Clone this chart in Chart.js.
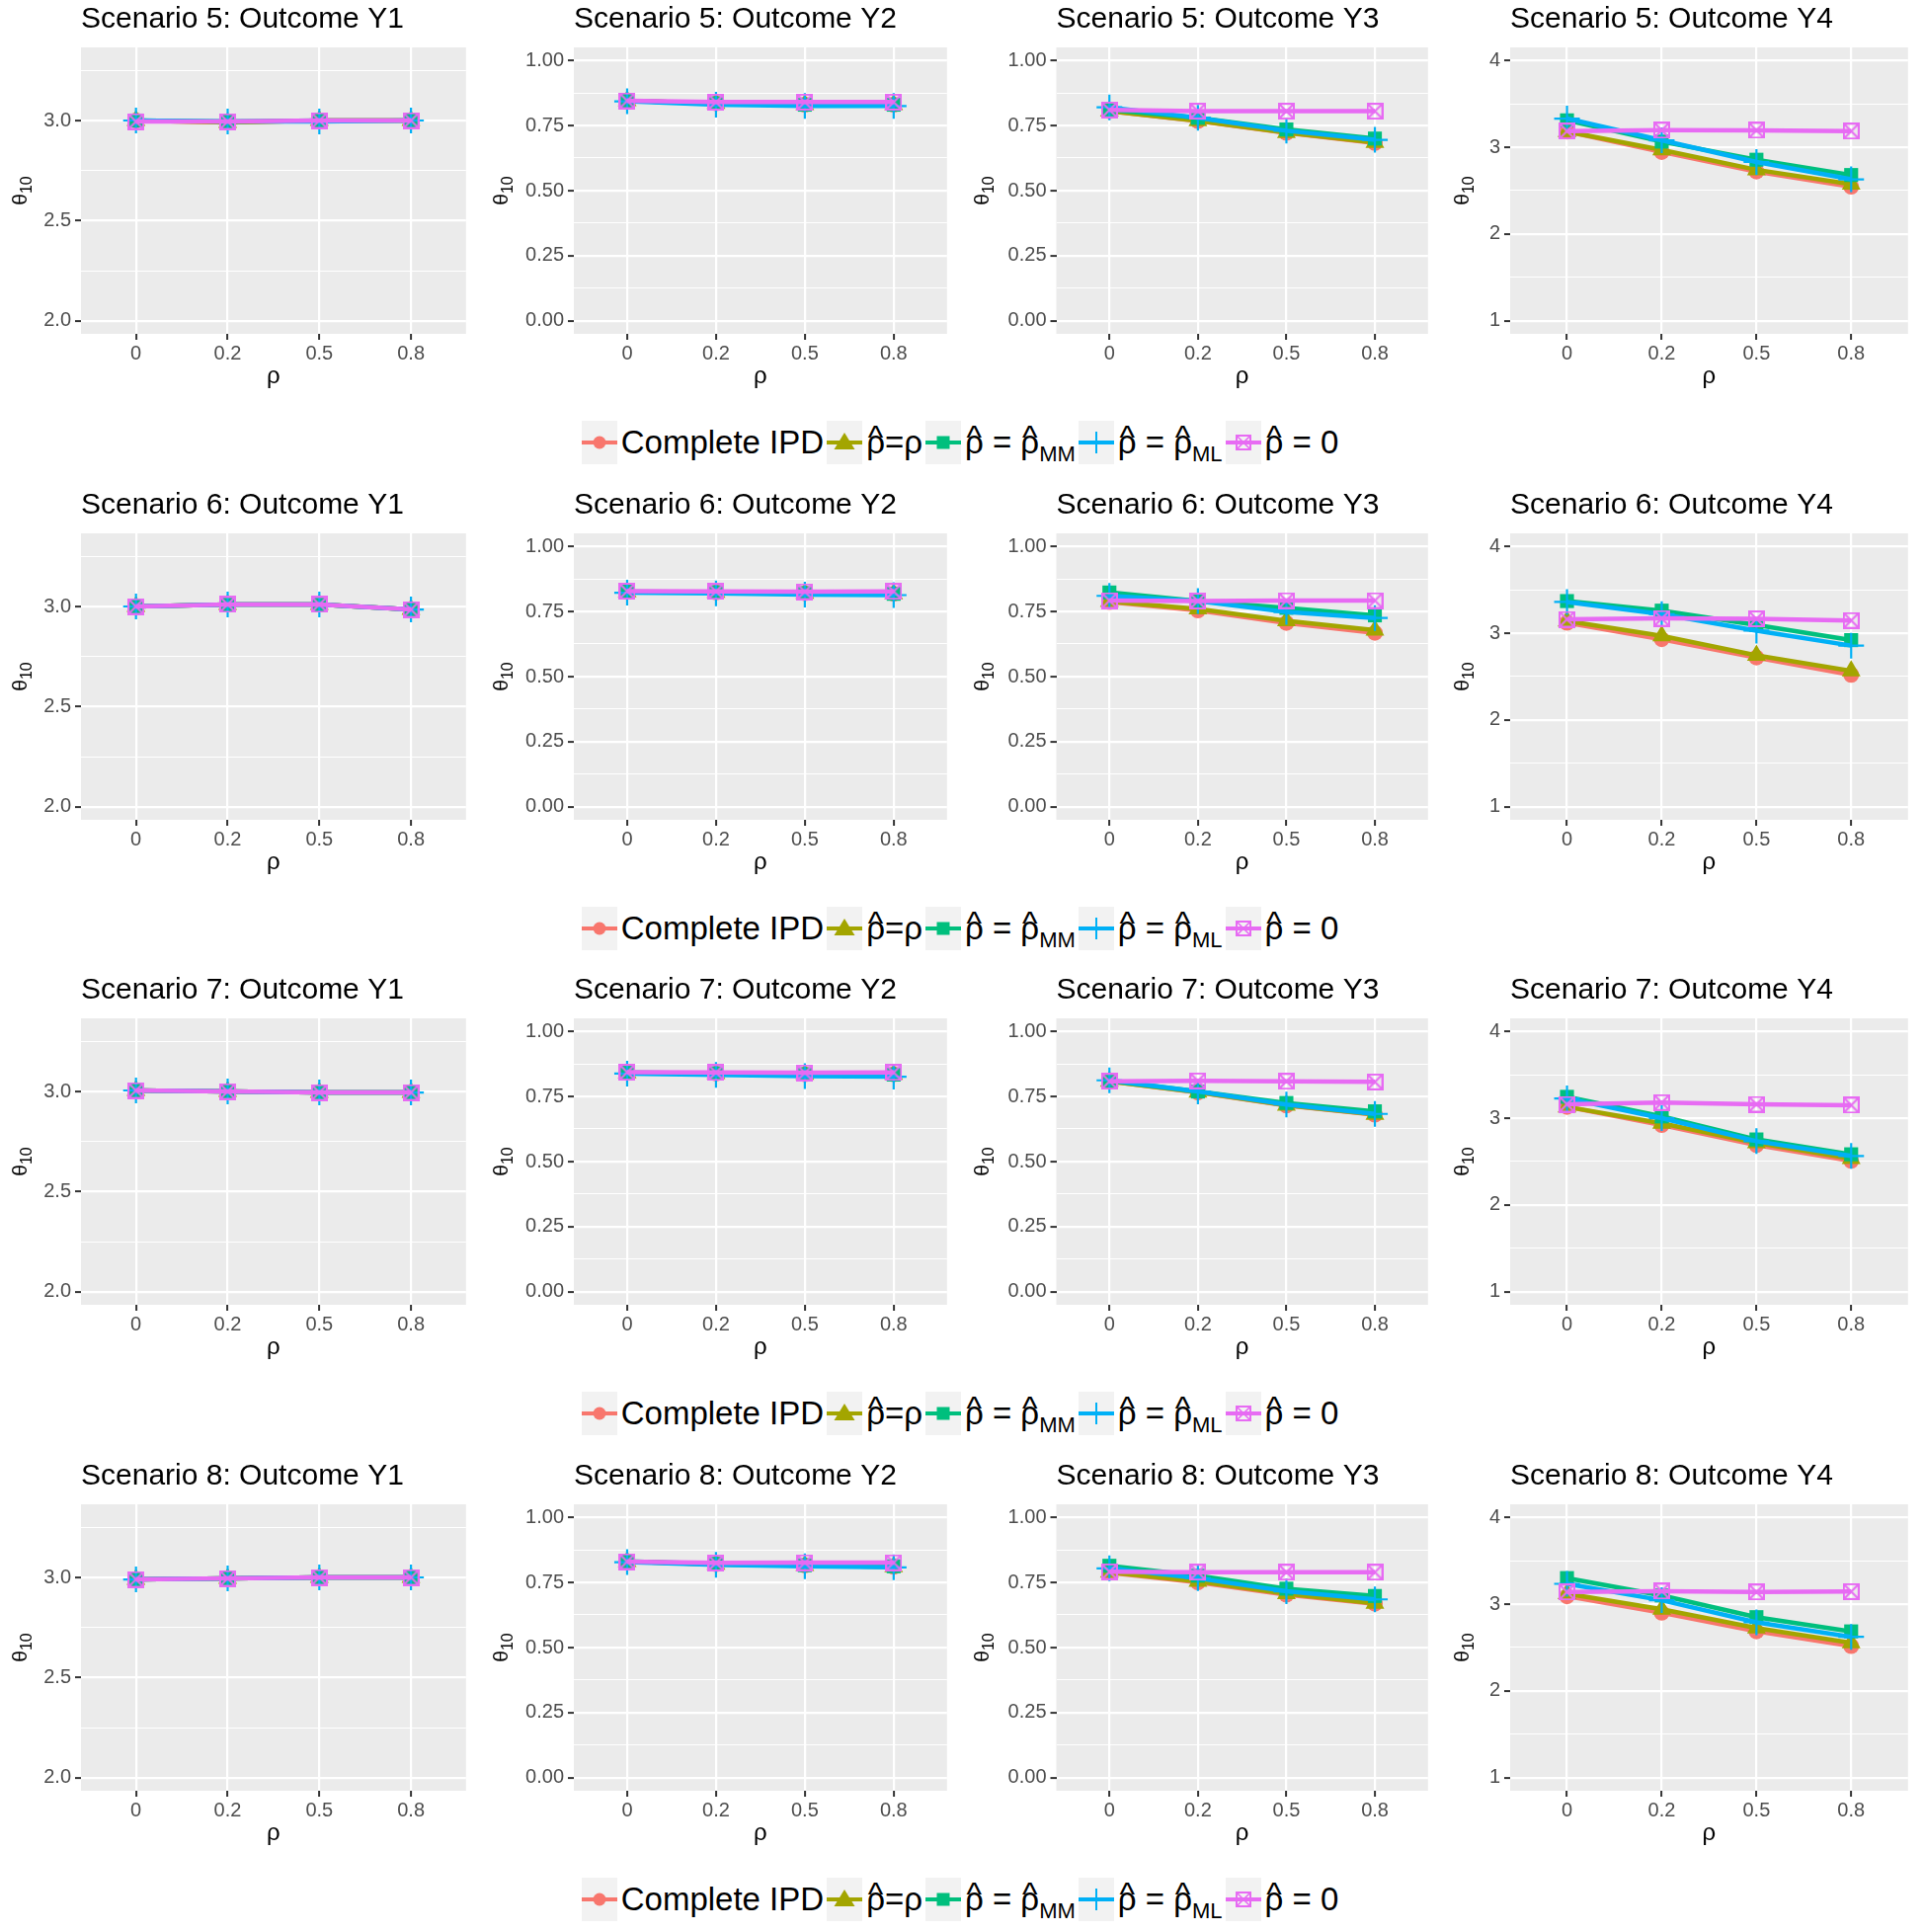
<!DOCTYPE html>
<html><head><meta charset="utf-8">
<script src="https://cdn.jsdelivr.net/npm/chart.js@4.4.1/dist/chart.umd.min.js"></script>
<style>
html,body{margin:0;padding:0;background:#fff;}
#wrap{position:relative;width:1947px;height:1956px;overflow:hidden;background:#fff;}
canvas.p{position:absolute;}
.legend{position:absolute;left:0;width:1947px;height:44px;display:flex;justify-content:center;align-items:center;font-family:"Liberation Sans",Arial,sans-serif;font-size:33px;color:#000;}
.key{width:36px;height:44px;flex:none;display:block;}
.lt{margin:0 3px 0 4px;white-space:nowrap;line-height:44px;height:44px;}
.lt sub{font-size:22px;vertical-align:-8px;line-height:0;}
.hat{position:relative;display:inline-block;line-height:44px;}
.hat::before{content:'^';position:absolute;left:0;width:100%;text-align:center;top:-5px;line-height:44px;}
</style></head><body><div id="wrap"></div>
<script>
// ---------------- data ----------------
const rhoLabels = ['0', '0.2', '0.5', '0.8'];
const scenarios = ['5', '6', '7', '8'];
const outcomes = ['Y1', 'Y2', 'Y3', 'Y4'];
const seriesNames = ['Complete IPD', 'ρ̂=ρ', 'ρ̂ = ρ̂MM', 'ρ̂ = ρ̂ML', 'ρ̂ = 0'];
const legendHtml = [
  'Complete IPD',
  '<span class="hat">ρ</span>=ρ',
  '<span class="hat">ρ</span> = <span class="hat">ρ</span><sub>MM</sub>',
  '<span class="hat">ρ</span> = <span class="hat">ρ</span><sub>ML</sub>',
  '<span class="hat">ρ</span> = 0'
];

const yLimY1 = [2, 3.3];
const yLimY2 = [0, 1];
const yLimY3 = [0, 1];
const yLimY4 = [1, 4];
const yTicksY1 = [2.0, 2.5, 3.0];
const yTickLabelsY1 = ['2.0', '2.5', '3.0'];
const yTicksY23 = [0, 0.25, 0.5, 0.75, 1.0];
const yTickLabelsY23 = ['0.00', '0.25', '0.50', '0.75', '1.00'];
const yTicksY4 = [1, 2, 3, 4];
const yTickLabelsY4 = ['1', '2', '3', '4'];

// each panel: [Complete IPD, rho_hat=rho, rho_hat=MM, rho_hat=ML, rho_hat=0]
const s5Y1 = [[3.00, 2.99, 3.00, 3.00], [3.00, 2.99, 3.00, 3.00], [3.00, 2.995, 3.00, 3.00], [3.00, 2.995, 2.995, 3.00], [2.995, 2.995, 3.00, 3.00]];
const s5Y2 = [[0.845, 0.835, 0.83, 0.83], [0.845, 0.835, 0.83, 0.83], [0.845, 0.835, 0.83, 0.83], [0.843, 0.83, 0.825, 0.825], [0.845, 0.84, 0.84, 0.84]];
const s5Y3 = [[0.805, 0.767, 0.722, 0.683], [0.805, 0.768, 0.723, 0.685], [0.81, 0.78, 0.735, 0.70], [0.82, 0.78, 0.73, 0.695], [0.81, 0.805, 0.805, 0.805]];
const s5Y4 = [[3.18, 2.945, 2.72, 2.545], [3.18, 2.97, 2.74, 2.575], [3.31, 3.065, 2.856, 2.68], [3.33, 3.08, 2.83, 2.63], [3.185, 3.196, 3.195, 3.185]];

const s6Y1 = [[3.00, 3.01, 3.01, 2.985], [3.00, 3.01, 3.01, 2.985], [3.00, 3.01, 3.01, 2.985], [3.00, 3.01, 3.01, 2.985], [3.00, 3.01, 3.01, 2.985]];
const s6Y2 = [[0.825, 0.823, 0.82, 0.818], [0.825, 0.823, 0.82, 0.818], [0.826, 0.824, 0.82, 0.818], [0.822, 0.82, 0.815, 0.813], [0.828, 0.827, 0.826, 0.827]];
const s6Y3 = [[0.786, 0.754, 0.706, 0.668], [0.788, 0.76, 0.714, 0.678], [0.823, 0.79, 0.764, 0.735], [0.81, 0.79, 0.748, 0.725], [0.792, 0.79, 0.792, 0.792]];
const s6Y4 = [[3.12, 2.93, 2.72, 2.52], [3.14, 2.97, 2.745, 2.566], [3.37, 3.26, 3.094, 2.92], [3.36, 3.22, 3.03, 2.857], [3.16, 3.17, 3.165, 3.147]];

const s7Y1 = [[3.005, 3.00, 2.995, 2.995], [3.005, 3.00, 2.995, 2.995], [3.005, 3.00, 2.995, 2.995], [3.005, 3.00, 2.995, 2.995], [3.005, 3.00, 2.995, 2.995]];
const s7Y2 = [[0.84, 0.838, 0.835, 0.835], [0.84, 0.838, 0.835, 0.835], [0.842, 0.839, 0.835, 0.834], [0.838, 0.833, 0.828, 0.826], [0.843, 0.842, 0.841, 0.842]];
const s7Y3 = [[0.808, 0.765, 0.715, 0.68], [0.808, 0.766, 0.716, 0.681], [0.81, 0.769, 0.725, 0.693], [0.812, 0.769, 0.719, 0.683], [0.808, 0.81, 0.808, 0.806]];
const s7Y4 = [[3.13, 2.92, 2.69, 2.508], [3.13, 2.94, 2.715, 2.534], [3.246, 3.02, 2.755, 2.584], [3.227, 3.00, 2.735, 2.565], [3.16, 3.18, 3.16, 3.15]];

const s8Y1 = [[2.99, 2.995, 3.00, 3.00], [2.99, 2.995, 3.00, 3.00], [2.99, 2.995, 3.00, 3.00], [2.99, 2.995, 3.00, 3.00], [2.99, 2.995, 3.00, 3.00]];
const s8Y2 = [[0.83, 0.82, 0.815, 0.81], [0.83, 0.82, 0.815, 0.81], [0.831, 0.821, 0.816, 0.812], [0.828, 0.818, 0.812, 0.808], [0.83, 0.825, 0.826, 0.826]];
const s8Y3 = [[0.787, 0.75, 0.703, 0.668], [0.789, 0.754, 0.707, 0.67], [0.814, 0.776, 0.726, 0.698], [0.804, 0.766, 0.716, 0.685], [0.791, 0.789, 0.789, 0.789]];
const s8Y4 = [[3.09, 2.90, 2.686, 2.517], [3.12, 2.94, 2.725, 2.555], [3.30, 3.10, 2.85, 2.686], [3.234, 3.045, 2.79, 2.623], [3.14, 3.15, 3.14, 3.145]];

const panelData = [
  [s5Y1, s5Y2, s5Y3, s5Y4],
  [s6Y1, s6Y2, s6Y3, s6Y4],
  [s7Y1, s7Y2, s7Y3, s7Y4],
  [s8Y1, s8Y2, s8Y3, s8Y4]
];
const yLims = [yLimY1, yLimY2, yLimY3, yLimY4];
const yTickVals = [yTicksY1, yTicksY23, yTicksY23, yTicksY4];
const yTickLabs = [yTickLabelsY1, yTickLabelsY23, yTickLabelsY23, yTickLabelsY4];

// ---------------- style ----------------
const seriesColors = ['#F8766D', '#A3A500', '#00BF7D', '#00B0F6', '#E76BF3'];
const FONT = '"Liberation Sans", Arial, Helvetica, sans-serif';
const CELL_W = 486.75, ROW_H = 491.7, CANVAS_W = 487, CANVAS_H = 400;
const plotLeft = [82, 94, 95.5, 69];
const plotRight = 474;
const plotTop = 48, plotBottom = 338;

Chart.defaults.font.family = FONT;
Chart.defaults.color = '#4d4d4d';

function boxXImage(size, color, lw) {
  const c = document.createElement('canvas');
  c.width = size; c.height = size;
  const g = c.getContext('2d');
  g.strokeStyle = color; g.lineWidth = lw;
  const h = lw / 2;
  g.strokeRect(h, h, size - lw, size - lw);
  g.beginPath();
  g.moveTo(h + 1, h + 1); g.lineTo(size - h - 1, size - h - 1);
  g.moveTo(size - h - 1, h + 1); g.lineTo(h + 1, size - h - 1);
  g.stroke();
  return c;
}
const boxX = boxXImage(17, seriesColors[4], 2);

const pointStyles = ['circle', 'triangle', 'rect', 'cross', boxX];
const pointRadii = [8, 11, 10, 13, 8];
const pointBorder = [0, 0, 0, 2.2, 0];

const bgPlugin = {
  id: 'panelBg',
  beforeDraw(chart) {
    const {ctx, chartArea: a} = chart;
    ctx.save();
    ctx.fillStyle = '#ebebeb';
    ctx.fillRect(a.left, a.top, a.right - a.left, a.bottom - a.top);
    ctx.restore();
  }
};
const thetaPlugin = {
  id: 'thetaTitle',
  afterDraw(chart) {
    const {ctx, chartArea: a} = chart;
    ctx.save();
    ctx.translate(27, (a.top + a.bottom) / 2);
    ctx.rotate(-Math.PI / 2);
    ctx.fillStyle = '#000';
    ctx.textBaseline = 'alphabetic';
    ctx.textAlign = 'left';
    const f1 = '21px ' + FONT, f2 = '16px ' + FONT;
    ctx.font = f1; const w1 = ctx.measureText('θ').width;
    ctx.font = f2; const w2 = ctx.measureText('10').width;
    const x0 = -(w1 + w2) / 2;
    ctx.font = f1; ctx.fillText('θ', x0, 0);
    ctx.font = f2; ctx.fillText('10', x0 + w1, 5);
    ctx.restore();
  }
};

const wrap = document.getElementById('wrap');

for (let r = 0; r < 4; r++) {
  for (let c = 0; c < 4; c++) {
    const cv = document.createElement('canvas');
    cv.className = 'p';
    cv.width = CANVAS_W; cv.height = CANVAS_H;
    cv.style.left = Math.round(c * CELL_W) + 'px';
    cv.style.top = Math.round(r * ROW_H) + 'px';
    cv.style.width = CANVAS_W + 'px'; cv.style.height = CANVAS_H + 'px';
    wrap.appendChild(cv);

    const lim = yLims[c];
    const span = lim[1] - lim[0];
    const majors = yTickVals[c];
    const labs = yTickLabs[c];
    const minors = [];
    for (let i = 0; i < majors.length - 1; i++) minors.push((majors[i] + majors[i + 1]) / 2);
    if (c === 0) minors.push(majors[majors.length - 1] + (majors[1] - majors[0]) / 2);
    const isMajor = v => majors.some(m => Math.abs(m - v) < 1e-9);

    const datasets = panelData[r][c].map((vals, i) => ({
      label: seriesNames[i],
      data: vals.map((v, k) => ({x: k, y: v})),
      borderColor: seriesColors[i],
      backgroundColor: seriesColors[i],
      borderWidth: 4.5,
      pointStyle: pointStyles[i],
      pointRadius: pointRadii[i],
      pointBorderWidth: pointBorder[i],
      pointBorderColor: seriesColors[i],
      pointBackgroundColor: seriesColors[i],
      tension: 0,
      order: 4 - i,
      clip: false
    }));

    new Chart(cv, {
      type: 'line',
      data: {datasets},
      plugins: [bgPlugin, thetaPlugin],
      options: {
        responsive: false,
        animation: false,
        devicePixelRatio: 1,
        events: [],
        layout: {padding: {left: 0, right: CANVAS_W - plotRight, top: 0, bottom: 0}},
        plugins: {
          legend: {display: false},
          tooltip: {enabled: false},
          title: {
            display: true,
            text: 'Scenario ' + scenarios[r] + ': Outcome ' + outcomes[c],
            align: 'start',
            fullSize: false,
            color: '#000',
            font: {size: 30, weight: 'normal', family: FONT, lineHeight: 1.2},
            padding: {top: 1.6, bottom: 48 - 1.6 - 36}
          }
        },
        scales: {
          x: {
            type: 'linear',
            min: -0.6, max: 3.6,
            afterBuildTicks: ax => { ax.ticks = rhoLabels.map((_, k) => ({value: k})); },
            afterFit: ax => { ax.height = CANVAS_H - plotBottom; },
            ticks: {
              autoSkip: false,
              maxRotation: 0,
              padding: 2,
              color: '#4d4d4d',
              font: {size: 20, family: FONT},
              callback: v => rhoLabels[v]
            },
            grid: {color: '#ffffff', lineWidth: 2.2, tickLength: 6, tickColor: '#333333', tickWidth: 2},
            border: {display: false},
            title: {display: true, text: 'ρ', color: '#000', font: {size: 24, family: FONT}, padding: {top: 0, bottom: 4}}
          },
          y: {
            type: 'linear',
            min: lim[0] - 0.05 * span,
            max: lim[1] + 0.05 * span,
            afterBuildTicks: ax => {
              ax.ticks = majors.concat(minors).sort((a, b) => a - b).map(v => ({value: v}));
            },
            afterFit: ax => { ax.width = plotLeft[c]; },
            ticks: {
              autoSkip: false,
              padding: 4,
              color: '#4d4d4d',
              font: {size: 20, family: FONT},
              callback: v => { const k = majors.findIndex(m => Math.abs(m - v) < 1e-9); return k >= 0 ? labs[k] : ''; }
            },
            grid: {
              color: '#ffffff',
              lineWidth: ctx => (ctx.tick && isMajor(ctx.tick.value)) ? 2.2 : 1.1,
              tickLength: 6,
              tickColor: ctx => (ctx.tick && isMajor(ctx.tick.value)) ? '#333333' : 'rgba(0,0,0,0)',
              tickWidth: 2
            },
            border: {display: false}
          }
        }
      }
    });
  }
}

// ---------------- legends ----------------
function keySvg(i) {
  const col = seriesColors[i];
  let shape = '';
  if (i === 0) shape = `<circle cx="18" cy="22" r="6.5" fill="${col}"/>`;
  else if (i === 1) shape = `<polygon points="18,12 7.5,29 28.5,29" fill="${col}"/>`;
  else if (i === 2) shape = `<rect x="11.5" y="15.5" width="13" height="13" fill="${col}"/>`;
  else if (i === 3) shape = `<line x1="18" y1="11" x2="18" y2="33" stroke="${col}" stroke-width="2"/>`;
  else shape = `<rect x="11" y="15" width="14" height="14" fill="none" stroke="${col}" stroke-width="2"/><path d="M12 16 L24 28 M24 16 L12 28" stroke="${col}" stroke-width="1.6"/>`;
  return `<svg class="key" width="36" height="44" viewBox="0 0 36 44"><rect width="36" height="44" fill="#f2f2f2"/><line x1="0" y1="22" x2="36" y2="22" stroke="${col}" stroke-width="4"/>${shape}</svg>`;
}
for (let r = 0; r < 4; r++) {
  const lg = document.createElement('div');
  lg.className = 'legend';
  lg.style.top = Math.round(426 + r * ROW_H) + 'px';
  lg.innerHTML = legendHtml.map((n, i) => keySvg(i) + `<span class="lt">${n}</span>`).join('');
  wrap.appendChild(lg);
}
</script>
</body></html>
